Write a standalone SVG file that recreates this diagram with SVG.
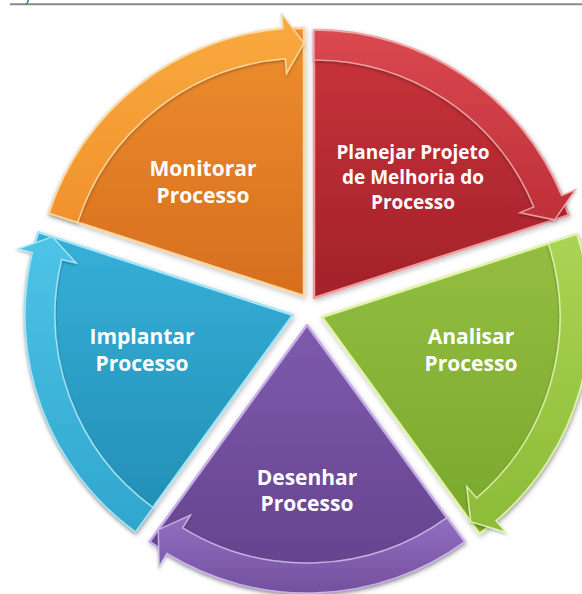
<svg xmlns="http://www.w3.org/2000/svg" width="582" height="594" viewBox="0 0 582 594">
  <style>
    .label { font-family: "Open Sans", "Liberation Sans", sans-serif; font-weight: bold; fill: #ffffff; text-anchor: middle; }
    .big { font-size: 21px; }
    .small { font-size: 19px; }
    .wedge { stroke-width: 2.5; stroke-linejoin: round; }
    .band { stroke-width: 1.5; stroke-linejoin: miter; stroke-opacity: 0.85; }
  </style>
  <defs>
    <filter id="shadow" x="-10%" y="-10%" width="120%" height="120%">
      <feDropShadow dx="1" dy="2" stdDeviation="2.5" flood-color="#000" flood-opacity="0.25"/>
    </filter>
    <filter id="lift" x="-10%" y="-10%" width="120%" height="120%">
      <feDropShadow dx="0" dy="1.5" stdDeviation="1.5" flood-color="#000" flood-opacity="0.3"/>
    </filter>
    <linearGradient id="g-orange" x1="0" y1="0" x2="0" y2="1">
      <stop offset="0" stop-color="#EE8E2E"/><stop offset="1" stop-color="#D66E1E"/>
    </linearGradient>
    <linearGradient id="b-orange" x1="0" y1="0" x2="0" y2="1">
      <stop offset="0" stop-color="#F9AA40"/><stop offset="1" stop-color="#F0922C"/>
    </linearGradient>
    <linearGradient id="g-red" x1="0" y1="0" x2="0" y2="1">
      <stop offset="0" stop-color="#C9343C"/><stop offset="1" stop-color="#A32229"/>
    </linearGradient>
    <linearGradient id="b-red" x1="0" y1="0" x2="0" y2="1">
      <stop offset="0" stop-color="#DA4850"/><stop offset="1" stop-color="#BE3038"/>
    </linearGradient>
    <linearGradient id="g-green" x1="0" y1="0" x2="0" y2="1">
      <stop offset="0" stop-color="#93BE42"/><stop offset="1" stop-color="#7AA82C"/>
    </linearGradient>
    <linearGradient id="b-green" x1="0" y1="0" x2="0" y2="1">
      <stop offset="0" stop-color="#AAD454"/><stop offset="1" stop-color="#8CBB38"/>
    </linearGradient>
    <linearGradient id="g-purple" x1="0" y1="0" x2="0" y2="1">
      <stop offset="0" stop-color="#7E5AAE"/><stop offset="1" stop-color="#63418A"/>
    </linearGradient>
    <linearGradient id="b-purple" x1="0" y1="0" x2="0" y2="1">
      <stop offset="0" stop-color="#9270C2"/><stop offset="1" stop-color="#74509E"/>
    </linearGradient>
    <linearGradient id="g-blue" x1="0" y1="0" x2="0" y2="1">
      <stop offset="0" stop-color="#36B0D8"/><stop offset="1" stop-color="#218DB4"/>
    </linearGradient>
    <linearGradient id="b-blue" x1="0" y1="0" x2="0" y2="1">
      <stop offset="0" stop-color="#4DC4E6"/><stop offset="1" stop-color="#30A6CD"/>
    </linearGradient>
  </defs>

  <!-- page rule at the top -->
  <line x1="10" y1="4.3" x2="582" y2="4.3" stroke="#8a8a8a" stroke-width="2"/>
  <text x="25" y="2" font-family="Liberation Serif, serif" font-size="13" fill="#333">)</text>

  <!-- pie segments -->
  <g id="monitorar" filter="url(#shadow)">
    <path class="wedge" d="M304,296 L49.12,213.18 A268,268 0 0 1 304,28 Z" fill="url(#g-orange)" stroke="#FFD6A0"/>
  </g>
  <g id="planejar" filter="url(#shadow)">
    <path class="wedge" d="M314,298 L314,30 A268,268 0 0 1 568.88,215.18 Z" fill="url(#g-red)" stroke="#EE9A9E"/>
  </g>
  <g id="analisar" filter="url(#shadow)">
    <path class="wedge" d="M322,317 L576.88,234.18 A268,268 0 0 1 479.53,533.82 Z" fill="url(#g-green)" stroke="#E0F4A8"/>
  </g>
  <g id="desenhar" filter="url(#shadow)">
    <path class="wedge" d="M307,325 L464.53,541.82 A268,268 0 0 1 149.47,541.82 Z" fill="url(#g-purple)" stroke="#C4ACE6"/>
  </g>
  <g id="implantar" filter="url(#shadow)">
    <path class="wedge" d="M293,315 L135.47,531.82 A268,268 0 0 1 38.12,232.18 Z" fill="url(#g-blue)" stroke="#A6E4F6"/>
  </g>

  <!-- clockwise cycle arrows along the rim -->
  <g id="connectors" filter="url(#lift)">
    <path class="band" d="M49.12,213.18 A268,268 0 0 1 282.97,28.83 L281.80,13.87 L304,43 L286.50,73.69 L285.33,58.73 A238,238 0 0 0 77.65,222.45 Z" fill="url(#b-orange)" stroke="#FFE0B0"/>
    <path class="band" d="M314,30 A268,268 0 0 1 561.60,195.44 L575.46,189.70 L554.62,219.82 L520.03,212.66 L533.88,206.92 A238,238 0 0 0 314,60 Z" fill="url(#b-red)" stroke="#F4B0B2"/>
    <path class="band" d="M576.88,234.18 A268,268 0 0 1 496.05,520.79 L505.79,532.20 L470.71,521.68 L466.83,486.57 L476.57,497.98 A238,238 0 0 0 548.35,243.45 Z" fill="url(#b-green)" stroke="#E8F8B8"/>
    <path class="band" d="M464.53,541.82 A268,268 0 0 1 166.97,553.51 L159.13,566.30 L158.29,529.68 L190.48,515.14 L182.64,527.93 A238,238 0 0 0 446.89,517.55 Z" fill="url(#b-purple)" stroke="#D2BEEE"/>
    <path class="band" d="M135.47,531.82 A268,268 0 0 1 32.40,252.44 L17.82,248.93 L52.38,236.82 L76.16,262.94 L61.58,259.44 A238,238 0 0 0 153.11,507.55 Z" fill="url(#b-blue)" stroke="#B4EAF8"/>
  </g>

  <!-- labels -->
  <g id="labels">
    <text class="label big" x="203" y="176">Monitorar</text>
    <text class="label big" x="203" y="203">Processo</text>
    <text class="label small" x="413" y="159">Planejar Projeto</text>
    <text class="label small" x="413" y="184">de Melhoria do</text>
    <text class="label small" x="413" y="209">Processo</text>
    <text class="label big" x="471" y="344">Analisar</text>
    <text class="label big" x="471" y="371">Processo</text>
    <text class="label big" x="307" y="485">Desenhar</text>
    <text class="label big" x="307" y="511">Processo</text>
    <text class="label big" x="142" y="344">Implantar</text>
    <text class="label big" x="142" y="371">Processo</text>
  </g>
</svg>
